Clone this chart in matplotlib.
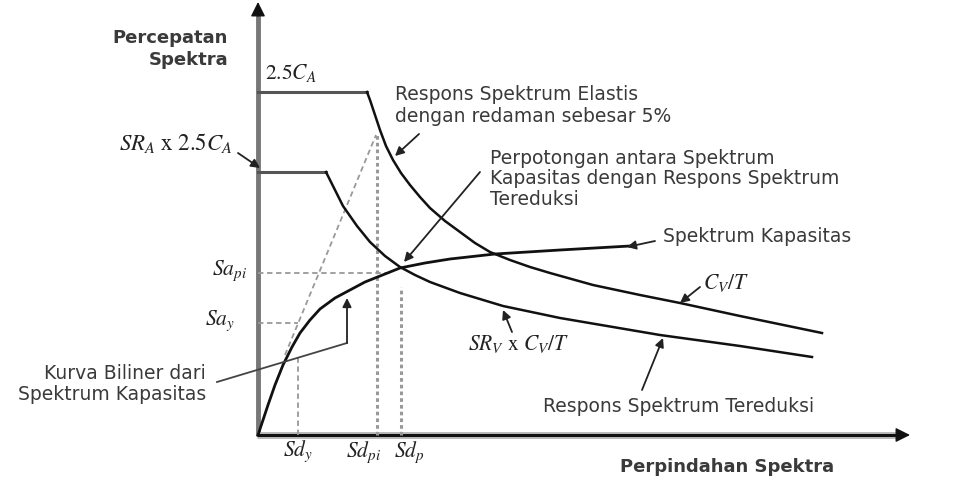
import numpy as np
import matplotlib.pyplot as plt

plt.rcParams['font.family'] = ['DejaVu Sans']
plt.rcParams['mathtext.fontset'] = 'stix'

# Sketch coordinates: origin at the axis corner, units ~ pixels of the original picture
# Respons spektrum elastis (plateau 2.5Ca then Cv/T)
elastic_x = [0, 109, 112, 117, 122, 128, 135, 143, 152, 162, 172, 187, 202, 217, 232, 252,
             272, 292, 335, 382, 422, 482, 564]
elastic_y = [343, 343, 335, 320, 305, 289, 275, 262, 250, 238, 227, 214, 203, 192, 183, 175,
             168, 162, 150, 140, 132, 119, 102]

# Respons spektrum tereduksi (SRa x 2.5Ca, SRv x Cv/T)
reduced_x = [0, 68, 75, 85, 99, 112, 127, 142, 157, 172, 202, 245, 302, 402, 482, 554]
reduced_y = [263, 263, 249, 229, 209, 193, 179, 168, 160, 153, 142, 129, 117, 100, 89, 78]

# Spektrum kapasitas
capacity_x = [0, 5, 10, 17, 25, 34, 42, 52, 62, 77, 92, 107, 122, 142, 167, 192, 237, 302, 372]
capacity_y = [0, 15, 30, 50, 70, 88, 102, 115, 126, 137, 145, 153, 159, 167, 172, 176, 181, 185, 189]

# garis elastis (dashed) sampai titik Sdpi
bilin_x = [27, 118]
bilin_y = [80, 300]

# titik-titik penting
Sd_y, Sa_y = 40, 112
Sd_pi, Sa_pi = 119, 162
Sd_p, Sa_p = 143, 148
Sd_pi_top = 300
Sd_y_top = 80

x_end, y_end = 652, 433

fig = plt.figure(figsize=(9.63, 4.8), dpi=100)
ax = fig.add_axes([0, 0, 1, 1])
ax.set_xlim(-258, 705)
ax.set_ylim(-45, 435)
ax.axis('off')

# sumbu
ax.plot([0, 0], [-1, y_end - 12], color='#777', lw=3.5, solid_capstyle='butt')
ax.annotate('', xy=(0, y_end), xytext=(0, y_end - 14),
            arrowprops=dict(arrowstyle='-|>', color='#111', lw=1, mutation_scale=22, shrinkA=0, shrinkB=0))
ax.plot([-1, x_end - 12], [0, 0], color='#bbb', lw=5, solid_capstyle='butt')
ax.plot([-1, x_end - 12], [0, 0], color='#111', lw=2.2, solid_capstyle='butt')
ax.annotate('', xy=(x_end, 0), xytext=(x_end - 14, 0),
            arrowprops=dict(arrowstyle='-|>', color='#111', lw=1, mutation_scale=22, shrinkA=0, shrinkB=0))

# garis bantu
gs = dict(color='#999', lw=1.3, ls=(0, (3, 2)))
ax.plot([0, Sd_y], [Sa_y, Sa_y], **gs)
ax.plot([Sd_y, Sd_y], [0, Sd_y_top], **gs)
ax.plot([0, Sd_pi + 15], [Sa_pi, Sa_pi], **gs)
ax.plot([Sd_pi, Sd_pi], [0, Sd_pi_top], color='#999', lw=2.2, ls=(0, (1.2, 1)))
ax.plot([Sd_p, Sd_p], [0, Sa_p], color='#999', lw=2.2, ls=(0, (1.2, 1)))
ax.plot(bilin_x, bilin_y, **gs)

# kurva
ax.plot(elastic_x[:2], elastic_y[:2], color='#555', lw=2.2)
ax.plot(elastic_x[1:], elastic_y[1:], color='#111', lw=1.8)
ax.plot(reduced_x[:2], reduced_y[:2], color='#555', lw=2.2)
ax.plot(reduced_x[1:], reduced_y[1:], color='#111', lw=1.8)
ax.plot(capacity_x, capacity_y, color='#111', lw=2.0)

# panah keterangan
ap = dict(arrowstyle='-|>', color='#222', lw=1.3, mutation_scale=13, shrinkA=0, shrinkB=0)
arrows = [((-20, 282), (2, 267)),
          ((161, 301), (137, 279)),
          ((222, 263), (146, 173)),
          ((397, 194), (369, 188)),
          ((442, 148), (422, 132)),
          ((254, 103), (245, 125)),
          ((384, 45), (405, 97))]
for (xs, ys), (xt, yt) in arrows:
    ax.annotate('', xy=(xt, yt), xytext=(xs, ys), arrowprops=ap)
ax.plot([-41, 89], [53, 92], color='#444', lw=1.3)
ax.annotate('', xy=(89, 137), xytext=(89, 92), arrowprops=ap)

# teks
tc = '#3a3a3a'
fs = 13.5
ax.text(-30, 386, 'Percepatan\nSpektra', ha='right', va='center', fontsize=13,
        fontweight='bold', color=tc, linespacing=1.3)
ax.text(362, -32, 'Perpindahan Spektra', ha='left', va='center', fontsize=13,
        fontweight='bold', color=tc)
ax.text(137, 330, 'Respons Spektrum Elastis\ndengan redaman sebesar 5%', ha='left', va='center',
        fontsize=fs, color=tc, linespacing=1.2)
ax.text(232, 256, 'Perpotongan antara Spektrum\nKapasitas dengan Respons Spektrum\nTereduksi',
        ha='left', va='center', fontsize=fs, color=tc, linespacing=1.12)
ax.text(405, 198, 'Spektrum Kapasitas', ha='left', va='center', fontsize=fs, color=tc)
ax.text(285, 28, 'Respons Spektrum Tereduksi', ha='left', va='center', fontsize=fs, color=tc)
ax.text(-52, 51, 'Kurva Biliner dari\nSpektrum Kapasitas', ha='right', va='center',
        fontsize=fs, color=tc, linespacing=1.15, multialignment='right')

mc = '#222'
ms = 15.5
ax.text(7, 362, r'$2.5C_A$', ha='left', va='center', fontsize=ms, color=mc)
ax.text(-25, 292, r'$SR_A\ \mathrm{x}\ 2.5C_A$', ha='right', va='center', fontsize=16.5, color=mc)
ax.text(445, 152, r'$C_V/T$', ha='left', va='center', fontsize=ms, color=mc)
ax.text(210, 91, r'$SR_V\ \mathrm{x}\ C_V/T$', ha='left', va='center', fontsize=ms, color=mc)
ax.text(-11, 164, r'$Sa_{pi}$', ha='right', va='center', fontsize=ms, color=mc)
ax.text(-23, 114, r'$Sa_y$', ha='right', va='center', fontsize=ms, color=mc)
ax.text(Sd_y, -16, r'$Sd_y$', ha='center', va='center', fontsize=ms, color=mc)
ax.text(Sd_pi - 13, -17, r'$Sd_{pi}$', ha='center', va='center', fontsize=ms, color=mc)
ax.text(Sd_p + 8, -17, r'$Sd_p$', ha='center', va='center', fontsize=ms, color=mc)

fig.savefig('out.png', dpi=100)
